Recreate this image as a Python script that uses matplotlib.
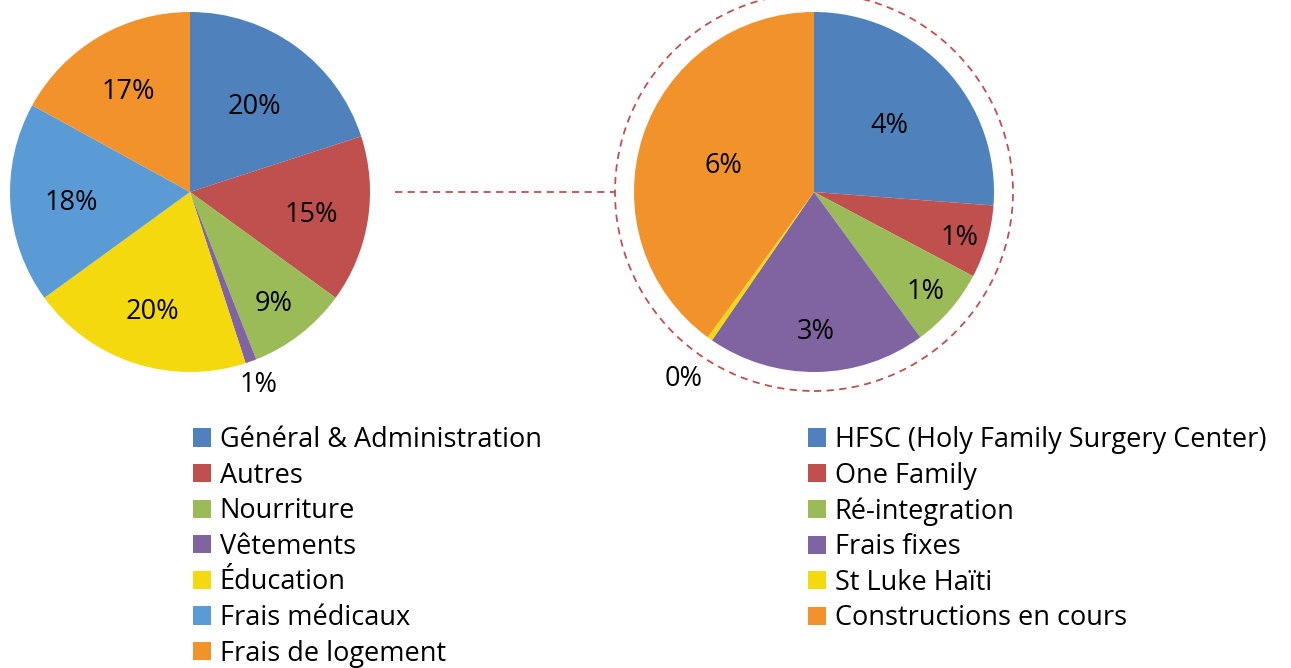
import numpy as np
import matplotlib
matplotlib.use("Agg")
import matplotlib.pyplot as plt
from matplotlib.patches import Circle
from matplotlib.lines import Line2D

plt.rcParams['font.family'] = ['Open Sans', 'DejaVu Sans']

# ---- data ----
left_labels = ["Général & Administration", "Autres", "Nourriture", "Vêtements",
               "Éducation", "Frais médicaux", "Frais de logement"]
left_values = [20, 15, 9, 1, 20, 18, 17]
left_colors = ["#4F81BD", "#C0504D", "#9BBB59", "#8064A2", "#F5D90F", "#5B9BD5", "#F2922B"]

right_labels = ["HFSC (Holy Family Surgery Center)", "One Family", "Ré-integration",
                "Frais fixes", "St Luke Haïti", "Constructions en cours"]
right_values = [4.0, 1.0, 1.1, 3.0, 0.07, 6.1]
right_colors = ["#4F81BD", "#C0504D", "#9BBB59", "#8064A2", "#F5D90F", "#F2922B"]

# label radial positions (style)
left_label_r = [0.61, 0.68, 0.76, 1.12, 0.68, 0.66, 0.67]
right_label_r = [0.57, 0.84, 0.82, 0.76, 1.25, 0.53]

W, H = 1291, 668
fig = plt.figure(figsize=(W / 100, H / 100), dpi=100)

R = 180.0
L = 1.3
size = 2 * L * R


def make_ax(cx, cy_top):
    cy = H - cy_top
    ax = fig.add_axes([(cx - size / 2) / W, (cy - size / 2) / H, size / W, size / H])
    return ax


def draw_pie(ax, values, colors, radii):
    wedges, _ = ax.pie(values, colors=colors, startangle=90, counterclock=False,
                       radius=1.0, wedgeprops=dict(linewidth=0))
    for w, v, r in zip(wedges, values, radii):
        mid = np.deg2rad((w.theta1 + w.theta2) / 2)
        pct = "{:.0f}%".format(v)
        ax.text(r * np.cos(mid), r * np.sin(mid) - 0.02, pct, ha='center', va='center',
                fontsize=19.5, color='black', clip_on=False)
    ax.set_xlim(-L, L)
    ax.set_ylim(-L, L)
    ax.set_aspect('equal')
    ax.axis('off')
    return wedges


axl = make_ax(190, 192)
wl = draw_pie(axl, left_values, left_colors, left_label_r)

axr = make_ax(814, 192)
wr = draw_pie(axr, right_values, right_colors, right_label_r)

# dashed circle around right pie
circ = Circle((0, 0), 199 / R, fill=False, edgecolor="#C0504D", linestyle=(0, (4, 3)),
              linewidth=1.3, clip_on=False)
axr.add_patch(circ)

# connecting dashed line
fig.add_artist(Line2D([395 / W, 615 / W], [(H - 192) / H, (H - 192) / H],
                      transform=fig.transFigure, color="#C0504D",
                      linestyle=(0, (4, 3)), linewidth=1.3))

fs = 19.5
leg_kw = dict(loc='upper left', frameon=False, fontsize=fs, handlelength=0.66,
              handleheight=0.66, handletextpad=0.33, labelspacing=0.28,
              borderpad=0, borderaxespad=0)
fig.legend(wl, left_labels, bbox_to_anchor=(193 / W, (H - 426) / H), **leg_kw)
fig.legend(wr, right_labels, bbox_to_anchor=(808 / W, (H - 426) / H), **leg_kw)

fig.savefig("out.png", dpi=100)
